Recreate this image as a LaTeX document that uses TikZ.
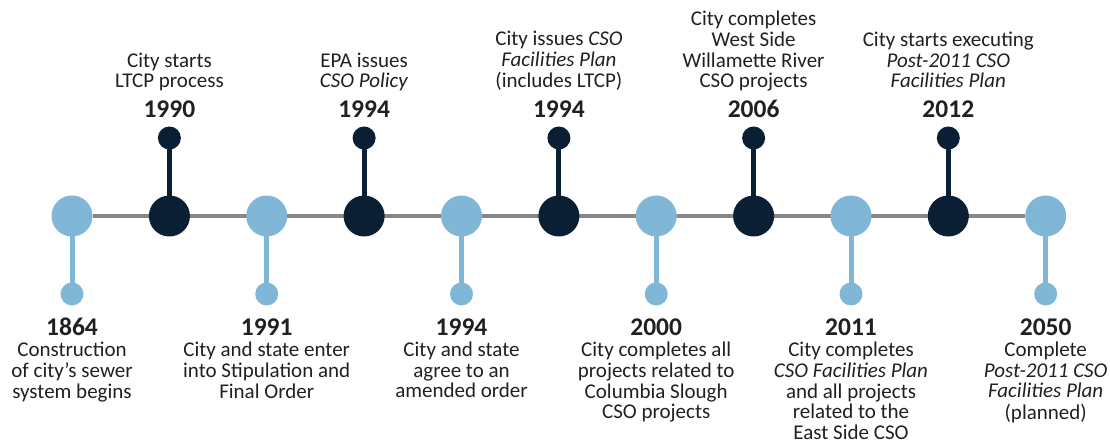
\documentclass[tikz,border=0pt]{standalone}
\usepackage{fontspec}
\setmainfont{Carlito}
\usetikzlibrary{positioning,backgrounds}
\definecolor{navy}{HTML}{0A1F33}
\definecolor{skyblue}{HTML}{80B7D7}
\definecolor{spinegray}{HTML}{87878A}
\definecolor{inkgray}{HTML}{231F20}
\newcommand{\yearfont}{\fontsize{25.5}{26}\selectfont\bfseries}
\newcommand{\notefont}{\fontsize{21}{20.6}\selectfont}
\newcommand{\upnote}[1]{\begin{tabular}[b]{@{}c@{}}#1\end{tabular}}
\newcommand{\downnote}[1]{\begin{tabular}[t]{@{}c@{}}#1\end{tabular}}
\tikzset{
  bigdot/.style={
    circle,
    inner sep=0pt,
    minimum size=41pt},
  tipdot/.style={
    circle,
    inner sep=0pt,
    minimum size=23pt},
  upevent/.style={fill=navy},
  downevent/.style={fill=skyblue},
  spine/.style={draw=spinegray, line width=4.5pt},
  upstem/.style={draw=navy, line width=5pt},
  downstem/.style={draw=skyblue, line width=5pt},
  year/.style={anchor=base, inner sep=0pt, text=inkgray, font=\yearfont},
  note/.style={anchor=base, inner sep=0pt, text=inkgray, font=\notefont},
}

\begin{document}
\begin{tikzpicture}[x=1pt, y=1pt]
    \useasboundingbox (0,0) rectangle (1110,442);

    % events on the time line
    \node [bigdot, downevent] (ev1)  at (72,226)     {};
    \node [bigdot, upevent]   (ev2)  at (169.4,226)  {};
    \node [bigdot, downevent] (ev3)  at (266.7,226)  {};
    \node [bigdot, upevent]   (ev4)  at (364.1,226)  {};
    \node [bigdot, downevent] (ev5)  at (461.5,226)  {};
    \node [bigdot, upevent]   (ev6)  at (558.9,226)  {};
    \node [bigdot, downevent] (ev7)  at (656.2,226)  {};
    \node [bigdot, upevent]   (ev8)  at (753.6,226)  {};
    \node [bigdot, downevent] (ev9)  at (851.0,226)  {};
    \node [bigdot, upevent]   (ev10) at (948.3,226)  {};
    \node [bigdot, downevent] (ev11) at (1045.7,226) {};

    % small end dots
    \node [tipdot, downevent] (tip1)  at (72,148)     {};
    \node [tipdot, upevent]   (tip2)  at (169.4,304)  {};
    \node [tipdot, downevent] (tip3)  at (266.7,148)  {};
    \node [tipdot, upevent]   (tip4)  at (364.1,304)  {};
    \node [tipdot, downevent] (tip5)  at (461.5,148)  {};
    \node [tipdot, upevent]   (tip6)  at (558.9,304)  {};
    \node [tipdot, downevent] (tip7)  at (656.2,148)  {};
    \node [tipdot, upevent]   (tip8)  at (753.6,304)  {};
    \node [tipdot, downevent] (tip9)  at (851.0,148)  {};
    \node [tipdot, upevent]   (tip10) at (948.3,304)  {};
    \node [tipdot, downevent] (tip11) at (1045.7,148) {};

    \begin{scope}[on background layer]
	\draw[spine] (ev1) -- (ev11);
	\draw[downstem] (ev1.center) -- (tip1.center);
	\draw[upstem]   (ev2.center) -- (tip2.center);
	\draw[downstem] (ev3.center) -- (tip3.center);
	\draw[upstem]   (ev4.center) -- (tip4.center);
	\draw[downstem] (ev5.center) -- (tip5.center);
	\draw[upstem]   (ev6.center) -- (tip6.center);
	\draw[downstem] (ev7.center) -- (tip7.center);
	\draw[upstem]   (ev8.center) -- (tip8.center);
	\draw[downstem] (ev9.center) -- (tip9.center);
	\draw[upstem]   (ev10.center) -- (tip10.center);
	\draw[downstem] (ev11.center) -- (tip11.center);
    \end{scope}

    % years
    \node [year] (yr1)  at (72,107)      {1864};
    \node [year] (yr2)  at (169.4,324.5) {1990};
    \node [year] (yr3)  at (266.7,107)   {1991};
    \node [year] (yr4)  at (364.1,324.5) {1994};
    \node [year] (yr5)  at (461.5,107)   {1994};
    \node [year] (yr6)  at (558.9,324.5) {1994};
    \node [year] (yr7)  at (656.2,107)   {2000};
    \node [year] (yr8)  at (753.6,324.5) {2006};
    \node [year] (yr9)  at (851.0,107)   {2011};
    \node [year] (yr10) at (948.3,324.5) {2012};
    \node [year] (yr11) at (1045.7,107)  {2050};

    % descriptions
    \node [note] (note1)  at (72,85.5)    {\downnote{Construction\\of city’s sewer\\system begins}};
    \node [note] (note2)  at (169.4,354)  {\upnote{City starts\\LTCP process}};
    \node [note] (note3)  at (266.7,85.5) {\downnote{City and state enter\\into Stipulation and\\Final Order}};
    \node [note] (note4)  at (364.1,354)  {\upnote{EPA issues\\\textit{CSO Policy}}};
    \node [note] (note5)  at (461.5,85.5) {\downnote{City and state\\agree to an\\amended order}};
    \node [note] (note6)  at (558.9,354)  {\upnote{City issues \textit{CSO}\\\textit{Facilities Plan}\\(includes LTCP)}};
    \node [note] (note7)  at (656.2,85.5) {\downnote{City completes all\\projects related to\\Columbia Slough\\CSO projects}};
    \node [note] (note8)  at (753.6,354)  {\upnote{City completes\\West Side\\Willamette River\\CSO projects}};
    \node [note] (note9)  at (851.0,85.5) {\downnote{City completes\\\textit{CSO Facilities Plan}\\and all projects\\related to the\\East Side CSO}};
    \node [note] (note10) at (948.3,354)  {\upnote{City starts executing\\\textit{Post-2011 CSO}\\\textit{Facilities Plan}}};
    \node [note] (note11) at (1045.7,85.5) {\downnote{Complete\\\textit{Post-2011 CSO}\\\textit{Facilities Plan}\\(planned)}};

\end{tikzpicture}
\end{document}
